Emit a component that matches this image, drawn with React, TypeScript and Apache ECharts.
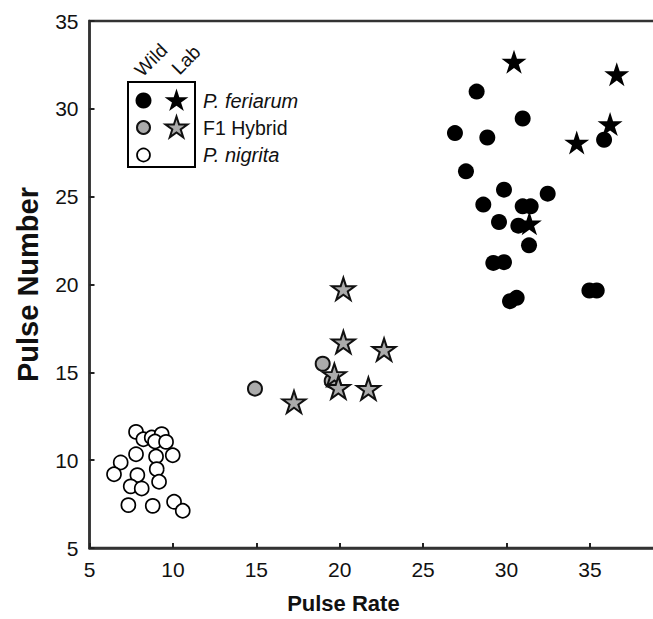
import React, { useEffect, useRef } from "react";
import * as echarts from "echarts";

// Data (Pulse Rate, Pulse Number)
const feriarumWild: [number, number][] = [
  [28.21, 30.98], [30.97, 29.45], [26.91, 28.62], [28.85, 28.37], [27.57, 26.44],
  [35.85, 28.24], [29.85, 25.4], [32.47, 25.17], [28.61, 24.55], [30.97, 24.45],
  [31.45, 24.45], [29.55, 23.56], [30.71, 23.35], [31.35, 22.23], [29.21, 21.23],
  [29.85, 21.27], [30.21, 19.05], [30.61, 19.24], [34.97, 19.66], [35.41, 19.66],
];
const feriarumLab: [number, number][] = [
  [30.45, 32.74], [36.61, 32.03], [36.21, 29.19], [34.21, 28.14], [31.37, 23.54],
];
const hybridWild: [number, number][] = [
  [14.92, 14.07], [18.98, 15.49], [19.52, 14.51],
];
const hybridLab: [number, number][] = [
  [20.22, 19.81], [20.22, 16.78], [22.66, 16.35], [19.68, 14.92],
  [19.92, 14.19], [21.72, 14.13], [17.26, 13.37],
];
const nigritaWild: [number, number][] = [
  [7.79, 11.61], [8.23, 11.19], [8.73, 11.29], [9.33, 11.48], [8.93, 11.06],
  [9.59, 11.04], [7.79, 10.34], [8.99, 10.21], [9.99, 10.28], [6.87, 9.87],
  [6.47, 9.2], [9.03, 9.49], [7.87, 9.15], [7.47, 8.51], [8.13, 8.39],
  [9.17, 8.77], [7.33, 7.44], [8.79, 7.4], [10.07, 7.63], [10.59, 7.12],
];

const legendLabels = ["P. feriarum", "F1 Hybrid", "P. nigrita"];
const legendHeaders = ["Wild", "Lab"];
const xAxisTitle = "Pulse Rate";
const yAxisTitle = "Pulse Number";

const STAR =
  "path://M50 0 L61.23 34.55 L97.55 34.55 L68.16 55.9 L79.39 90.45 L50 69.1 L20.61 90.45 L31.84 55.9 L2.45 34.55 L38.77 34.55 Z";

const FONT = "'Liberation Sans', Arial, Helvetica, sans-serif";
const GRAY = "#ababab";

function starPoints(cx: number, cy: number, R: number): number[][] {
  const pts: number[][] = [];
  const r = R * 0.382;
  for (let i = 0; i < 10; i++) {
    const a = -Math.PI / 2 + (i * Math.PI) / 5;
    const rad = i % 2 === 0 ? R : r;
    pts.push([cx + rad * Math.cos(a), cy + rad * Math.sin(a)]);
  }
  return pts;
}

export default function App() {
  const ref = useRef<HTMLDivElement>(null);

  useEffect(() => {
    if (!ref.current) return;
    const chart = echarts.init(ref.current, null, { renderer: "svg" });

    const axisCommon = {
      axisLine: { show: true, lineStyle: { color: "#333", width: 2.5 } },
      axisTick: { show: true, inside: true, length: 5, lineStyle: { color: "#222", width: 2 } },
      splitLine: { show: false },
    };

    const legendX1 = 143.5;
    const legendX2 = 176.5;
    const rowY = [100.5, 127.5, 155];

    chart.setOption({
      animation: false,
      backgroundColor: "#fff",
      grid: {
        left: 89.5,
        top: 21,
        width: 583.8,
        height: 528,
        show: true,
        borderColor: "#333",
        borderWidth: 2.5,
        containLabel: false,
      },
      xAxis: {
        type: "value",
        min: 5,
        max: 40,
        interval: 5,
        ...axisCommon,
        axisLabel: {
          color: "#111",
          fontSize: 21,
          fontFamily: FONT,
          margin: 11,
          showMaxLabel: false,
        },
        name: xAxisTitle,
        nameLocation: "middle",
        nameGap: 44,
        nameTextStyle: {
          color: "#111",
          fontSize: 22,
          fontWeight: "bold",
          fontFamily: FONT,
          padding: [0, 76, 0, 0],
        },
      },
      yAxis: {
        type: "value",
        min: 5,
        max: 35,
        interval: 5,
        ...axisCommon,
        axisLabel: { color: "#111", fontSize: 21, fontFamily: FONT, margin: 11 },
        name: yAxisTitle,
        nameLocation: "middle",
        nameGap: 47,
        nameTextStyle: {
          color: "#111",
          fontSize: 29,
          fontWeight: "bold",
          fontFamily: FONT,
        },
      },
      series: [
        {
          name: "P. nigrita (Wild)",
          type: "scatter",
          data: nigritaWild,
          symbol: "circle",
          symbolSize: 14,
          itemStyle: { color: "#fff", borderColor: "#000", borderWidth: 1.7, opacity: 1 },
        },
        {
          name: "F1 Hybrid (Wild)",
          type: "scatter",
          data: hybridWild,
          symbol: "circle",
          symbolSize: 14,
          itemStyle: { color: GRAY, borderColor: "#111", borderWidth: 2, opacity: 1 },
        },
        {
          name: "F1 Hybrid (Lab)",
          type: "scatter",
          data: hybridLab,
          symbol: STAR,
          symbolSize: [23, 22],
          symbolOffset: [0, 1],
          itemStyle: { color: GRAY, borderColor: "#111", borderWidth: 2, opacity: 1 },
        },
        {
          name: "P. feriarum (Wild)",
          type: "scatter",
          data: feriarumWild,
          symbol: "circle",
          symbolSize: 16,
          itemStyle: { color: "#000", opacity: 1 },
        },
        {
          name: "P. feriarum (Lab)",
          type: "scatter",
          data: feriarumLab,
          symbol: STAR,
          symbolSize: [25, 24],
          symbolOffset: [0, 1],
          itemStyle: { color: "#000", opacity: 1 },
        },
      ],
      graphic: [
        {
          type: "rect",
          shape: { x: 128, y: 82, width: 67, height: 85 },
          style: { fill: "none", stroke: "#000", lineWidth: 2 },
        },
        { type: "circle", shape: { cx: legendX1, cy: rowY[0], r: 8 }, style: { fill: "#000" } },
        {
          type: "polygon",
          shape: { points: starPoints(legendX2, rowY[0] + 0.5, 12.5) },
          style: { fill: "#000" },
        },
        {
          type: "circle",
          shape: { cx: legendX1, cy: rowY[1], r: 6.5 },
          style: { fill: GRAY, stroke: "#111", lineWidth: 2 },
        },
        {
          type: "polygon",
          shape: { points: starPoints(legendX2, rowY[1] + 0.5, 11.5) },
          style: { fill: GRAY, stroke: "#111", lineWidth: 2 },
        },
        {
          type: "circle",
          shape: { cx: legendX1, cy: rowY[2], r: 6.5 },
          style: { fill: "#fff", stroke: "#000", lineWidth: 1.7 },
        },
        ...legendLabels.map((t, i) => ({
          type: "text",
          x: 203,
          y: rowY[i],
          style: {
            text: t,
            fill: "#111",
            font: `${i === 1 ? "normal 19.5px" : "italic 20px"} ${FONT}`,
            textAlign: "left",
            textVerticalAlign: "middle",
          },
        })),
        ...legendHeaders.map((t, i) => ({
          type: "text",
          x: i === 0 ? 151 : 186,
          y: 60,
          rotation: Math.PI / 4,
          style: {
            text: t,
            fill: "#111",
            font: `19px ${FONT}`,
            textAlign: "center",
            textVerticalAlign: "middle",
          },
        })),
      ],
    });

    return () => chart.dispose();
  }, []);

  return (
    <div
      style={{
        position: "fixed",
        left: 0,
        top: 0,
        width: 653,
        height: 619,
        overflow: "hidden",
        background: "#fff",
      }}
    >
      <div ref={ref} style={{ width: 720, height: 619 }} />
    </div>
  );
}
